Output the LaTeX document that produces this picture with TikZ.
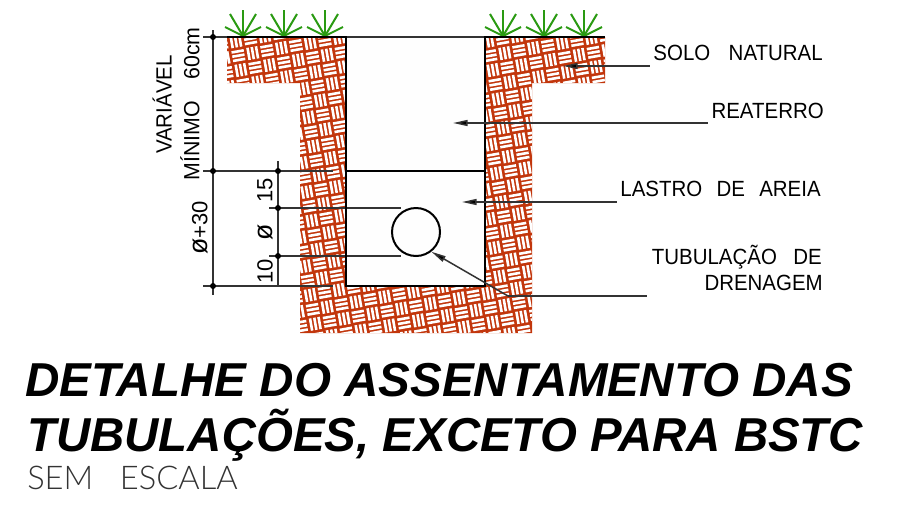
\documentclass[tikz,border=0pt]{standalone}
\usepackage{fontspec}
\setmainfont{Liberation Sans}
\newfontfamily\thinfont{Lato}[UprightFont=* Light]
\usetikzlibrary{arrows.meta}
\definecolor{soilred}{HTML}{C2360C}
\definecolor{grassgreen}{HTML}{2A9A12}
\definecolor{dimgray}{HTML}{333333}
\tikzset{
  wall/.style={line width=2*0.75pt,black},
  dimline/.style={line width=1.3*0.75pt,dimgray},
  leader/.style={line width=1.5*0.75pt,dimgray},
  arrowline/.style={leader,{Triangle[length=11pt,width=4.5pt,fill=black]}-},
  blade/.style={line width=2*0.75pt,grassgreen},
  dimdot/.style={circle,fill=black,inner sep=0pt,minimum size=4.5pt},
  lab/.style={inner sep=0pt,font=\fontsize{16.5}{16.5}\selectfont},
  dimtxt/.style={inner sep=0pt,rotate=90,font=\fontsize{16.5}{16.5}\selectfont},
  titletxt/.style={inner sep=0pt,anchor=base west,font=\fontsize{35.7}{35.7}\selectfont\bfseries\itshape},
  pipe/.style={circle,draw=black,line width=2*0.75pt,minimum size=36pt,inner sep=0pt},
  whitebar/.style={line width=2.6*0.75pt,white,line cap=butt}
}
\newcommand{\tuft}[2]{%
  \draw[blade] (#1,#2) -- ++(0,-26);
  \draw[blade] (#1,#2) -- ++(-13,-22);
  \draw[blade] (#1,#2) -- ++(13,-22);
  \draw[blade] (#1,#2) -- ++(-18,-9);
  \draw[blade] (#1,#2) -- ++(18,-9);
}
\newcommand{\nar}[1]{\scalebox{.93}[1]{#1}}
\begin{document}
\begin{tikzpicture}[x=0.75pt,y=-0.75pt]
\useasboundingbox (0,0) rectangle (907,515);
% soil
\begin{scope}
  \clip (227,37) -- (346,37) -- (346,286) -- (485,286) -- (485,37) -- (605,37) -- (605,83) -- (532,83) -- (532,333) -- (300,333) -- (300,83) -- (227,83) -- cycle;
  \fill[soilred] (220,30) rectangle (610,340);
  \begin{scope}[shift={(416,180)},rotate=10]
    \foreach \i in {-16,...,16}{
      \foreach \j in {-14,...,14}{
        \pgfmathtruncatemacro{\blkp}{mod(abs(\i+\j),2)}
        \pgfmathsetmacro{\bx}{\i*14.6}
        \pgfmathsetmacro{\by}{\j*14.6}
        \ifnum\blkp=0
          \foreach \k in {3.0,7.3,11.6}{\draw[whitebar] (\bx+1.1,\by+\k) -- ++(12.4,0);}
        \else
          \foreach \k in {3.0,7.3,11.6}{\draw[whitebar] (\bx+\k,\by+1.1) -- ++(0,12.4);}
        \fi
      }
    }
  \end{scope}
\end{scope}
% trench
\fill[white!99.5!black] (346,37) rectangle (485,286);
% grass
\tuft{243}{36}\tuft{284}{36}\tuft{325}{36}
\tuft{503}{36}\tuft{544}{36}\tuft{584}{36}
% coordinates
\coordinate (tl) at (227,37);
\coordinate (wl) at (346,37);
\coordinate (bl) at (346,286);
\coordinate (br) at (485,286);
\coordinate (wr) at (485,37);
\coordinate (tr) at (605,37);
\coordinate (sl) at (346,171);
\coordinate (sr) at (485,171);
% dimension points
\coordinate (a0) at (213,37);
\coordinate (a1) at (213,171);
\coordinate (a2) at (213,286);
\coordinate (b1) at (278,171);
\coordinate (b2) at (278,208);
\coordinate (b3) at (278,256);
\coordinate (b4) at (278,286);
% extension lines
\draw[dimline] (203,37) -- (wl);
\draw[dimline] (wl) -- (wr);
\draw[dimline] (203,171) -- (333,171);
\draw[dimline] (269,208) -- (401,208);
\draw[dimline] (269,256) -- (401,256);
\draw[dimline] (203,286) -- (333,286);
\draw[dimline] (213,30) -- (213,295);
\draw[dimline] (278,161) -- (b4);
\foreach \p in {a0,a1,a2,b1,b2,b3}{\node[dimdot] at (\p) {};}
% walls
\draw[wall] (tl) -- (wl) -- (bl) -- (br) -- (wr) -- (tr);
\draw[wall] (sl) -- (sr);
% pipe
\node[pipe] (tube) at (416,232) {};
% labels
\node[lab,anchor=base east] (solo) at (823,60) {\nar{SOLO\hspace{.9em}NATURAL}};
\node[lab,anchor=base east] (reat) at (824,118) {\nar{REATERRO}};
\node[lab,anchor=base east] (last) at (821,196) {\nar{LASTRO\hspace{.7em}DE\hspace{.7em}AREIA}};
\node[lab,anchor=base east] (tub) at (822,264) {\nar{TUBULAÇÃO\hspace{.8em}DE}};
\node[lab,anchor=base east] (dren) at (823,290) {\nar{DRENAGEM}};
% leaders
\coordinate (solot) at (563,66);
\coordinate (soloe) at (650,66);
\coordinate (reatt) at (453,123);
\coordinate (reate) at (708,123);
\coordinate (lastt) at (462,202);
\coordinate (laste) at (617,202);
\coordinate (knee) at (508,296);
\coordinate (tube2) at (647,296);
\draw[arrowline] (solot) -- (soloe);
\draw[arrowline] (reatt) -- (reate);
\draw[arrowline] (lastt) -- (laste);
\draw[leader] (knee) -- (tube2);
\draw[arrowline] (tube.-52) -- (knee);
% dim labels
\node[dimtxt] (var) at (162,104.5) {\nar{VARIÁVEL}};
\node[dimtxt] (min) at (190,104) {\scalebox{.97}[1]{MÍNIMO\hspace{1em}60cm}};
\node[dimtxt] (dp) at (200,228) {{\fontsize{20}{20}\selectfont ø}+30};
\node[dimtxt] (d15) at (265,190) {15};
\node[dimtxt] (d0) at (265,232) {\fontsize{20}{20}\selectfont ø};
\node[dimtxt] (d10) at (265,271) {10};
% titles
\node[titletxt] (t1) at (25,396) {DETALHE DO ASSENTAMENTO DAS};
\node[titletxt] (t2) at (27,451) {\scalebox{.996}[1]{TUBULAÇÕES, EXCETO PARA BSTC}};
\node[inner sep=0pt,anchor=base west,text=black!80,font=\fontsize{24.5}{24.5}\selectfont\thinfont] (t3) at (27,489) {SEM\ \ \ ESCALA};
\end{tikzpicture}
\end{document}
